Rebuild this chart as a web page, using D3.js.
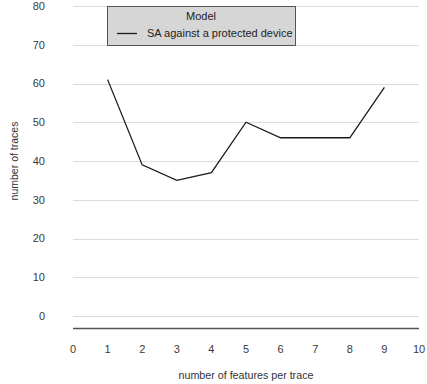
<!DOCTYPE html>
<html>
<head>
<meta charset="utf-8">
<script src="https://cdn.jsdelivr.net/npm/d3@7"></script>
<style>
  html, body { margin: 0; padding: 0; background: #fff; }
  svg { display: block; font-family: "Liberation Sans", Arial, sans-serif; }
</style>
</head>
<body>
<svg id="chart" width="427" height="384"></svg>
<script>
// Number of features per trace vs. number of traces needed
const features = [1, 2, 3, 4, 5, 6, 7, 8, 9];
const traces = [61, 39, 35, 37, 50, 46, 46, 46, 59];
const xTicks = [0, 1, 2, 3, 4, 5, 6, 7, 8, 9, 10];
const yTicks = [0, 10, 20, 30, 40, 50, 60, 70, 80];
const seriesName = "SA against a protected device";
const legendTitle = "Model";

const svg = d3.select("#chart");
const plotLeft = 73, plotRight = 419, plotTop = 6;
const zeroY = 316;

const x = d3.scaleLinear().domain([0, 10]).range([plotLeft, plotRight]);
const y = d3.scaleLinear().domain([0, 80]).range([zeroY, plotTop]);
const baseY = y(-3.1);

// horizontal gridlines
svg.append("g").selectAll("line").data(yTicks).join("line")
  .attr("x1", plotLeft).attr("x2", plotRight)
  .attr("y1", d => Math.round(y(d)) + 0.5).attr("y2", d => Math.round(y(d)) + 0.5)
  .attr("stroke", "#dcdcdc").attr("stroke-width", 1);

// y tick labels
svg.append("g").selectAll("text").data(yTicks).join("text")
  .attr("x", 45).attr("y", d => y(d)).attr("dy", "0.35em")
  .attr("text-anchor", "end").attr("font-size", 11).attr("fill", "#3a3a3a")
  .text(d => d);

// bottom axis line
svg.append("line")
  .attr("x1", plotLeft).attr("x2", plotRight)
  .attr("y1", Math.round(baseY) + 0.5).attr("y2", Math.round(baseY) + 0.5)
  .attr("stroke", "#555").attr("stroke-width", 1.3);

// x tick labels
svg.append("g").selectAll("text").data(xTicks).join("text")
  .attr("x", d => x(d)).attr("y", 349).attr("dy", "0.35em")
  .attr("text-anchor", "middle").attr("font-size", 11).attr("fill", "#3a3a3a")
  .text(d => d);

// axis titles
svg.append("text")
  .attr("x", x(5)).attr("y", 375).attr("dy", "0.35em")
  .attr("text-anchor", "middle").attr("font-size", 10.7).attr("fill", "#333")
  .text("number of features per trace");

svg.append("text")
  .attr("transform", `translate(14,161) rotate(-90)`)
  .attr("dy", "0.35em")
  .attr("text-anchor", "middle").attr("font-size", 10.5).attr("fill", "#333")
  .text("number of traces");

// series line
const line = d3.line().x((d, i) => x(features[i])).y(d => y(d));
svg.append("path").datum(traces)
  .attr("d", line)
  .attr("fill", "none").attr("stroke", "#1a1a1a").attr("stroke-width", 1.3);

// legend
const lg = svg.append("g");
lg.append("rect")
  .attr("x", 107.5).attr("y", 6.5).attr("width", 188).attr("height", 39)
  .attr("fill", "#d6d6d6").attr("stroke", "#555").attr("stroke-width", 1);
lg.append("text")
  .attr("x", 201).attr("y", 16).attr("dy", "0.35em")
  .attr("text-anchor", "middle").attr("font-size", 11).attr("fill", "#222")
  .text(legendTitle);
lg.append("line")
  .attr("x1", 117).attr("x2", 137).attr("y1", 33.5).attr("y2", 33.5)
  .attr("stroke", "#1a1a1a").attr("stroke-width", 1.3);
lg.append("text")
  .attr("x", 147).attr("y", 33).attr("dy", "0.35em")
  .attr("font-size", 11).attr("fill", "#222")
  .text(seriesName);
</script>
</body>
</html>
